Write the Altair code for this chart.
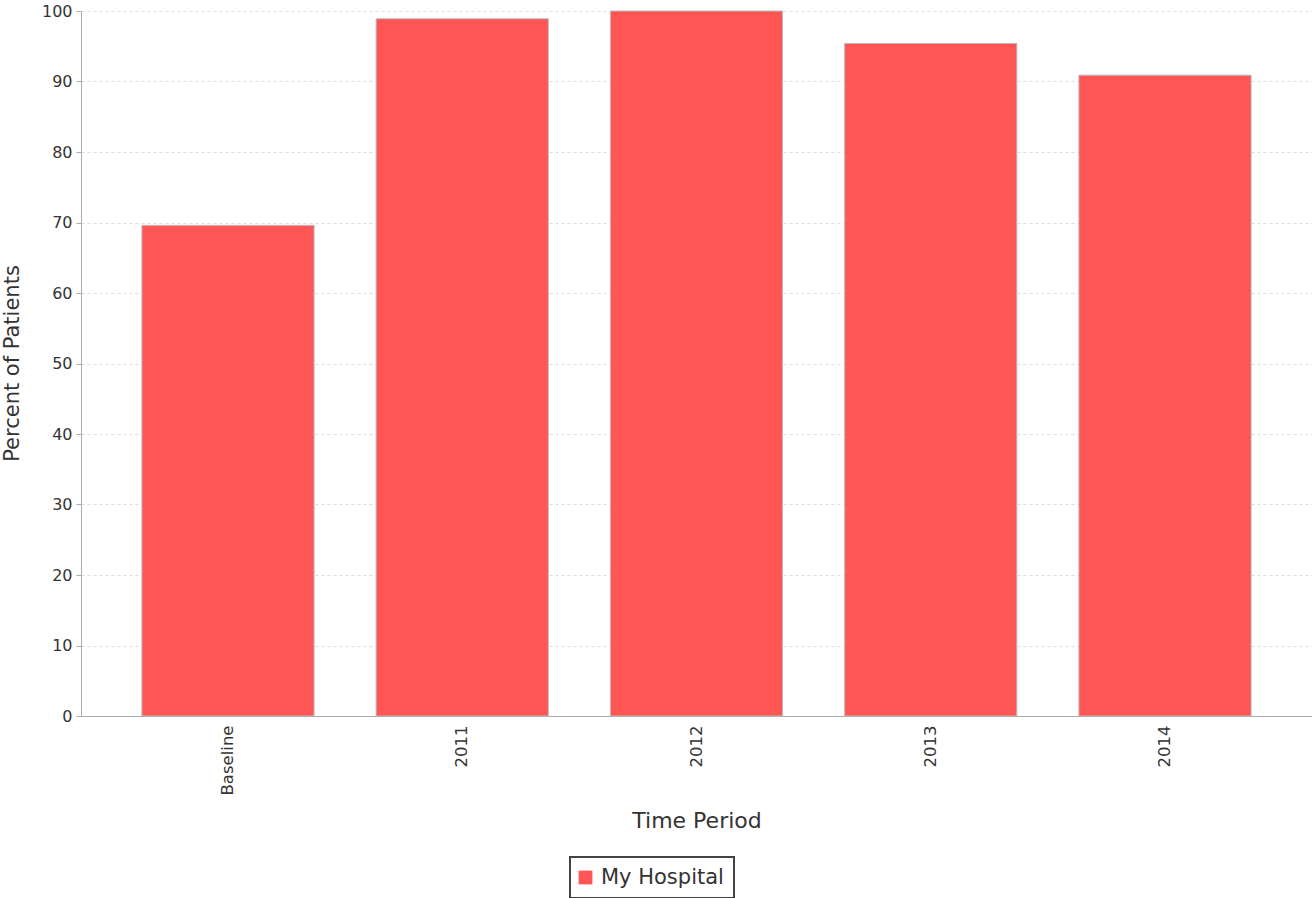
import altair as alt
import pandas as pd

# Percent of patients per time period
periods = ["Baseline", "2011", "2012", "2013", "2014"]
percents = [69.6, 98.9, 100.0, 95.4, 90.9]
series = ["My Hospital"] * len(periods)

df = pd.DataFrame({"period": periods, "percent": percents, "series": series})

FONT = "DejaVu Sans"

bars = (
    alt.Chart(df)
    .mark_bar(stroke="#BBBBBB", strokeWidth=1)
    .encode(
        x=alt.X(
            "period:N",
            sort=periods,
            title="Time Period",
            scale=alt.Scale(paddingInner=0.265, paddingOuter=0.26),
            axis=alt.Axis(
                labelAngle=270,
                labelAlign="right",
                labelBaseline="middle",
                labelPadding=9,
                labelFontSize=16.5,
                ticks=False,
                titleFontSize=22,
                titlePadding=16,
                grid=False,
            ),
        ),
        y=alt.Y(
            "percent:Q",
            title="Percent of Patients",
            scale=alt.Scale(domain=[0, 100], nice=False),
            axis=alt.Axis(
                values=list(range(0, 101, 10)),
                tickSize=5,
                labelPadding=4,
                labelFontSize=16,
                titleFontSize=21,
                titleAngle=270,
                titleAlign="center",
                titleBaseline="bottom",
                titleX=-59,
                titleY=352,
                grid=True,
                gridDash=[3, 3],
                gridColor="#DDDDDD",
            ),
        ),
        color=alt.Color(
            "series:N",
            title=None,
            scale=alt.Scale(domain=["My Hospital"], range=["#FF5555"]),
            legend=alt.Legend(
                orient="none",
                legendX=489,
                legendY=846,
                symbolType="square",
                symbolSize=190,
                symbolStrokeWidth=0,
                symbolOffset=-5,
                labelFontSize=21,
                labelFont=FONT,
                labelColor="#333333",
                strokeColor="#444444",
                padding=10,
                labelOffset=5,
            ),
        ),
    )
)

chart = (
    bars.properties(
        width=1231,
        height=705,
        autosize=alt.AutoSizeParams(type="none"),
        padding={"left": 81, "top": 11, "right": 0, "bottom": 182},
    )
    .configure_view(stroke=None)
    .configure_axis(
        labelFont=FONT,
        titleFont=FONT,
        titleFontWeight="normal",
        labelColor="#333333",
        titleColor="#333333",
        domainColor="#AAAAAA",
        tickColor="#AAAAAA",
    )
    .configure_legend(strokeWidth=2)
)

chart.save("out.html", embed_options={"renderer": "svg", "actions": False})
